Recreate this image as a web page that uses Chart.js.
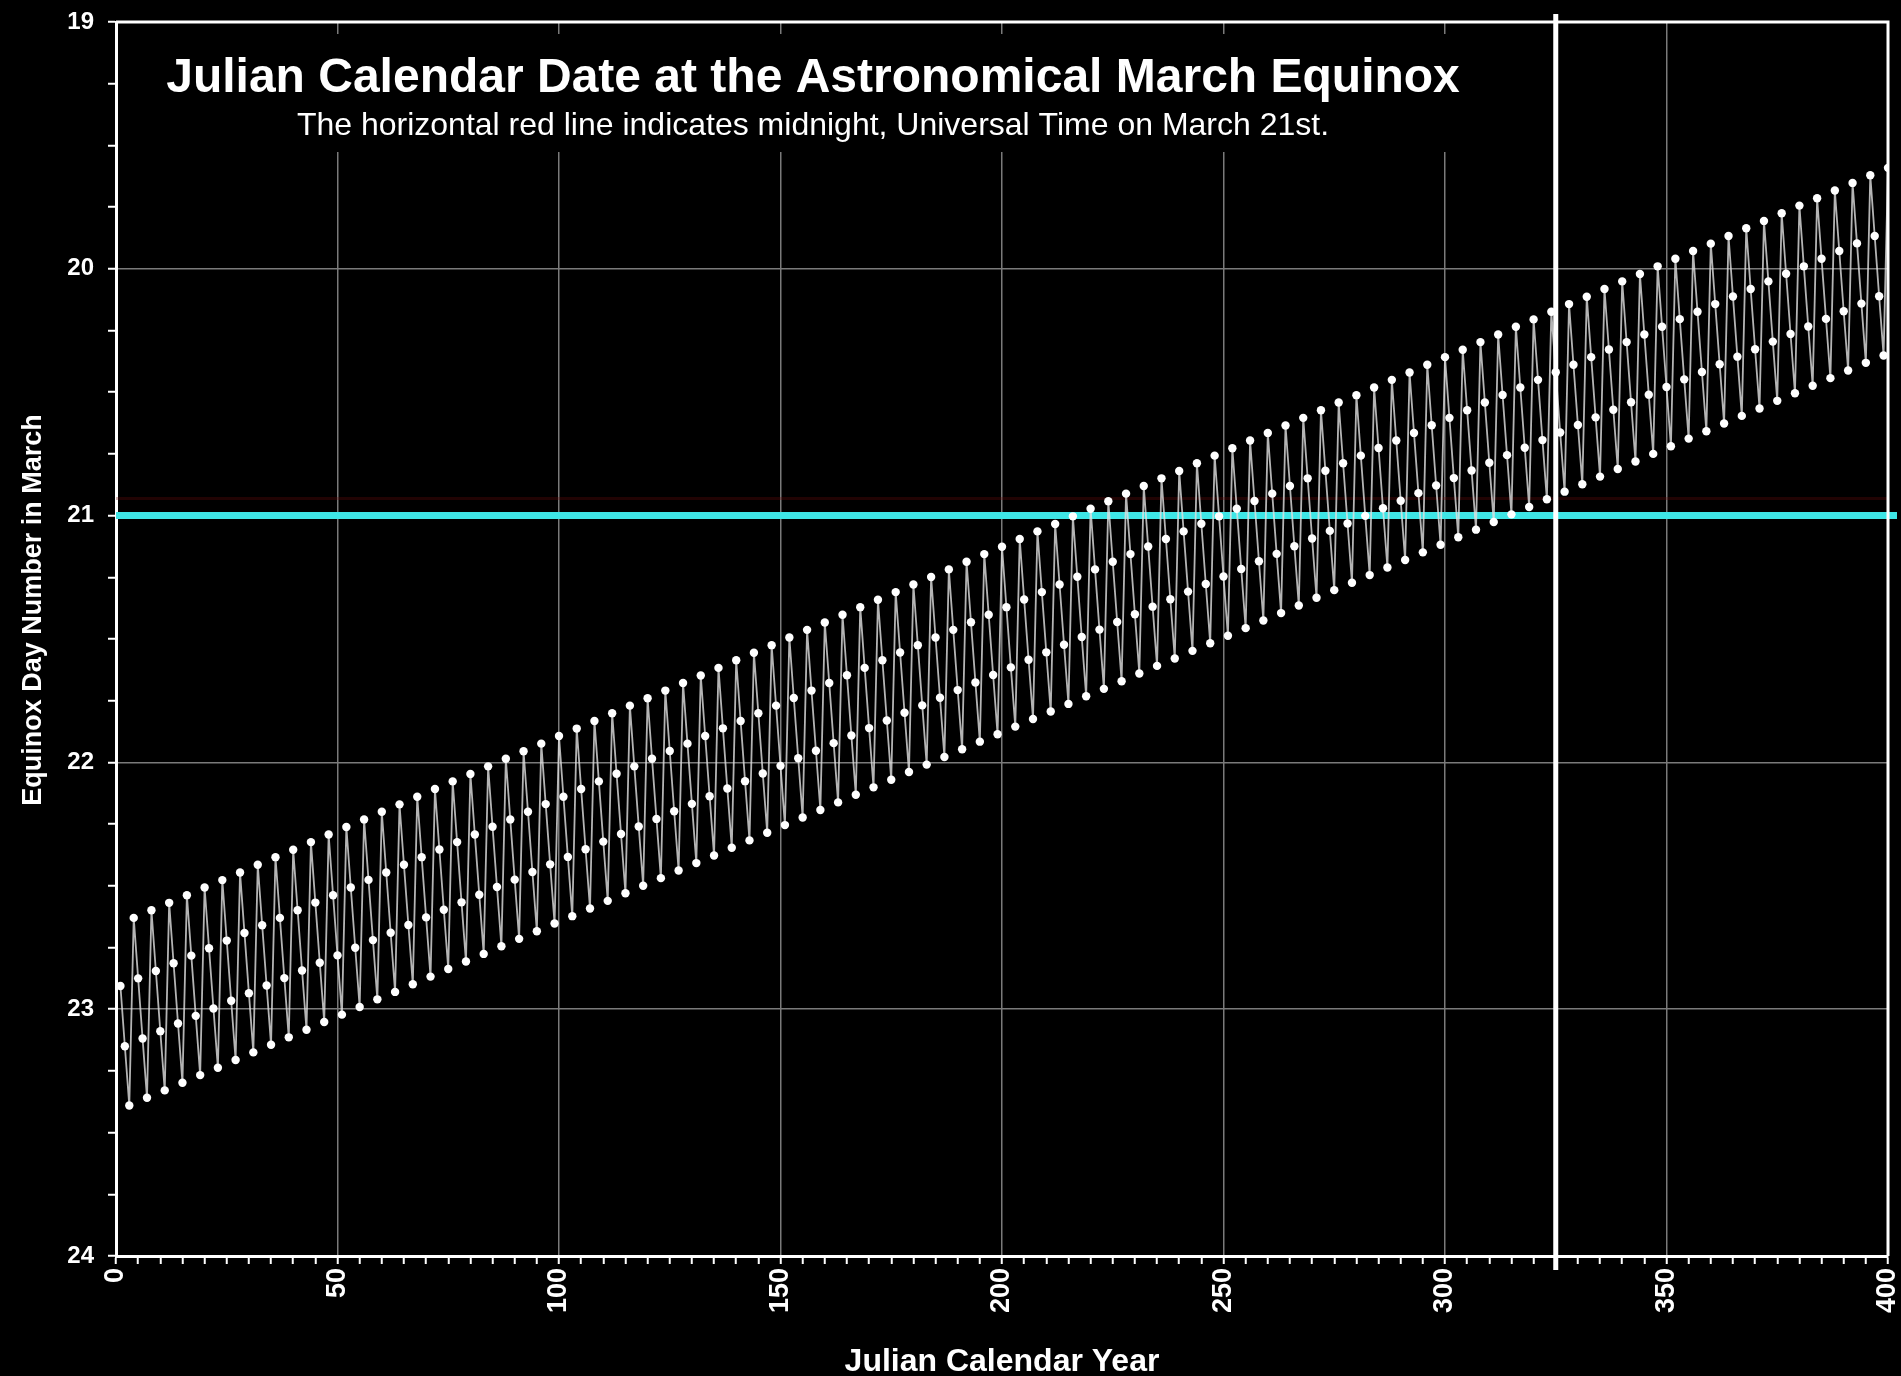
<!DOCTYPE html>
<html><head><meta charset="utf-8">
<script src="https://cdn.jsdelivr.net/npm/chart.js@4.4.1/dist/chart.umd.min.js"></script>
<style>html,body{margin:0;padding:0;background:#000;}canvas{display:block;}</style>
</head><body>
<canvas id="c" width="1901" height="1376" style="width:1901px;height:1376px"></canvas>
<script>
const titleText = 'Julian Calendar Date at the Astronomical March Equinox';
const subtitleText = 'The horizontal red line indicates midnight, Universal Time on March 21st.';
const xAxisTitle = 'Julian Calendar Year';
const yAxisTitle = 'Equinox Day Number in March';

const firstYear = 1;
// Equinox day number in March, one value per 4-year cycle (cycle k covers years 4k+1 .. 4k+4)
const yearAfterLeap = [
22.906,22.875,22.845,22.814,22.783,22.753,22.722,22.691,22.660,22.630,
22.599,22.568,22.538,22.507,22.476,22.446,22.415,22.384,22.353,22.323,
22.292,22.261,22.231,22.200,22.169,22.139,22.108,22.077,22.046,22.016,
21.985,21.954,21.924,21.893,21.862,21.832,21.801,21.770,21.739,21.709,
21.678,21.647,21.617,21.586,21.555,21.525,21.494,21.463,21.432,21.402,
21.371,21.340,21.310,21.279,21.248,21.218,21.187,21.156,21.125,21.095,
21.064,21.033,21.003,20.972,20.941,20.911,20.880,20.849,20.818,20.788,
20.757,20.726,20.696,20.665,20.634,20.604,20.573,20.542,20.511,20.481,
20.450,20.419,20.389,20.358,20.327,20.297,20.266,20.235,20.204,20.174,
20.143,20.112,20.082,20.051,20.020,19.990,19.959,19.928,19.897,19.867];
const secondYear = [
23.150,23.119,23.089,23.058,23.027,22.997,22.966,22.935,22.904,22.874,
22.843,22.812,22.782,22.751,22.720,22.690,22.659,22.628,22.597,22.567,
22.536,22.505,22.475,22.444,22.413,22.383,22.352,22.321,22.290,22.260,
22.229,22.198,22.168,22.137,22.106,22.076,22.045,22.014,21.983,21.953,
21.922,21.891,21.861,21.830,21.799,21.769,21.738,21.707,21.676,21.646,
21.615,21.584,21.554,21.523,21.492,21.462,21.431,21.400,21.369,21.339,
21.308,21.277,21.247,21.216,21.185,21.155,21.124,21.093,21.062,21.032,
21.001,20.970,20.940,20.909,20.878,20.848,20.817,20.786,20.755,20.725,
20.694,20.663,20.633,20.602,20.571,20.541,20.510,20.479,20.448,20.418,
20.387,20.356,20.326,20.295,20.264,20.234,20.203,20.172,20.141,20.111];
const thirdYear = [
23.390,23.359,23.329,23.298,23.267,23.237,23.206,23.175,23.144,23.114,
23.083,23.052,23.022,22.991,22.960,22.930,22.899,22.868,22.837,22.807,
22.776,22.745,22.715,22.684,22.653,22.623,22.592,22.561,22.530,22.500,
22.469,22.438,22.408,22.377,22.346,22.316,22.285,22.254,22.223,22.193,
22.162,22.131,22.101,22.070,22.039,22.009,21.978,21.947,21.916,21.886,
21.855,21.824,21.794,21.763,21.732,21.702,21.671,21.640,21.609,21.579,
21.548,21.517,21.487,21.456,21.425,21.395,21.364,21.333,21.302,21.272,
21.241,21.210,21.180,21.149,21.118,21.088,21.057,21.026,20.995,20.965,
20.934,20.903,20.873,20.842,20.811,20.781,20.750,20.719,20.688,20.658,
20.627,20.596,20.566,20.535,20.504,20.474,20.443,20.412,20.381,20.351];
const leapYear = [
22.630,22.599,22.569,22.538,22.507,22.477,22.446,22.415,22.384,22.354,
22.323,22.292,22.262,22.231,22.200,22.170,22.139,22.108,22.077,22.047,
22.016,21.985,21.955,21.924,21.893,21.863,21.832,21.801,21.770,21.740,
21.709,21.678,21.648,21.617,21.586,21.556,21.525,21.494,21.463,21.433,
21.402,21.371,21.341,21.310,21.279,21.249,21.218,21.187,21.156,21.126,
21.095,21.064,21.034,21.003,20.972,20.942,20.911,20.880,20.849,20.819,
20.788,20.757,20.727,20.696,20.665,20.635,20.604,20.573,20.542,20.512,
20.481,20.450,20.420,20.389,20.358,20.328,20.297,20.266,20.235,20.205,
20.174,20.143,20.113,20.082,20.051,20.021,19.990,19.959,19.928,19.898,
19.867,19.836,19.806,19.775,19.744,19.714,19.683,19.652,19.621,19.591];

const midnightDay = 21;      // cyan horizontal line
const markerYear = 325;      // white vertical line
const xTickLabels = [0, 50, 100, 150, 200, 250, 300, 350, 400];
const yTickLabels = [19, 20, 21, 22, 23, 24];

const points = [];
for (let k = 0; k < leapYear.length; k++) {
  [yearAfterLeap, secondYear, thirdYear, leapYear].forEach((arr, j) => {
    points.push({x: firstYear + 4 * k + j, y: arr[k]});
  });
}

const FONT = '"Liberation Sans", Arial, Helvetica, sans-serif';
const GRID = '#7a7a7a';

const decor = {
  id: 'decor',
  beforeDatasetsDraw(chart) {
    const {ctx, chartArea: a, scales: {x, y}} = chart;
    ctx.save();
    // title block (black box hides gridlines)
    ctx.fillStyle = '#000';
    ctx.fillRect(124, 34, 1380, 118);
    ctx.fillStyle = '#fff';
    ctx.textAlign = 'center';
    ctx.textBaseline = 'alphabetic';
    ctx.font = 'bold 48px ' + FONT;
    ctx.fillText(titleText, 813, 92);
    ctx.font = '32px ' + FONT;
    ctx.fillText(subtitleText, 813, 135);
    // faint red line
    const yr = y.getPixelForValue(midnightDay) - 17;
    ctx.strokeStyle = 'rgba(110,10,10,0.3)';
    ctx.lineWidth = 3;
    ctx.beginPath(); ctx.moveTo(a.left, yr); ctx.lineTo(a.right, yr); ctx.stroke();
    // cyan line
    const yc = y.getPixelForValue(midnightDay);
    ctx.strokeStyle = '#3ee6e6';
    ctx.lineWidth = 7;
    ctx.beginPath(); ctx.moveTo(a.left, yc); ctx.lineTo(a.right + 9, yc); ctx.stroke();
    ctx.restore();
  },
  afterDatasetsDraw(chart) {
    const {ctx, chartArea: a, scales: {x}} = chart;
    ctx.save();
    const xm = x.getPixelForValue(markerYear);
    ctx.strokeStyle = '#fff';
    ctx.lineWidth = 5;
    ctx.beginPath(); ctx.moveTo(xm, a.top - 8); ctx.lineTo(xm, a.bottom + 14); ctx.stroke();
    // frame top & right
    ctx.lineWidth = 3;
    ctx.beginPath();
    ctx.moveTo(a.left, a.top); ctx.lineTo(a.right, a.top); ctx.lineTo(a.right, a.bottom);
    ctx.stroke();
    // y axis title
    ctx.translate(34, 610);
    ctx.rotate(-Math.PI / 2);
    ctx.fillStyle = '#fff';
    ctx.font = 'bold 27px ' + FONT;
    ctx.textAlign = 'center';
    ctx.textBaseline = 'middle';
    ctx.fillText(yAxisTitle, 0, 0);
    ctx.restore();
  }
};

new Chart(document.getElementById('c'), {
  type: 'line',
  data: {
    datasets: [{
      data: points,
      borderColor: 'rgba(225,225,225,0.8)',
      borderWidth: 1.8,
      pointRadius: 4.2,
      pointBackgroundColor: '#ffffff',
      pointBorderWidth: 0,
      tension: 0
    }]
  },
  options: {
    responsive: false,
    animation: false,
    events: [],
    layout: {padding: {top: 22, right: 13, left: 0, bottom: 0}},
    plugins: {legend: {display: false}, tooltip: {enabled: false}, title: {display: false}},
    scales: {
      x: {
        type: 'linear', min: 0, max: 400,
        afterFit(s) { s.height = 120; s.paddingLeft = 0; s.paddingRight = 0; },
        ticks: {
          stepSize: 5, maxTicksLimit: 200, autoSkip: false,
          minRotation: 90, maxRotation: 90, padding: 4,
          color: '#fff', font: {family: FONT, size: 27, weight: 'bold'},
          callback: v => xTickLabels.includes(v) ? String(v) : ''
        },
        grid: {
          color: c => (c.tick && xTickLabels.includes(c.tick.value) && c.tick.value !== 0) ? GRID : 'rgba(0,0,0,0)',
          lineWidth: 1.5,
          tickColor: '#fff', tickLength: 8, tickWidth: 2, drawTicks: true
        },
        border: {color: '#fff', width: 3},
        title: {display: true, text: xAxisTitle, color: '#fff',
          font: {family: FONT, size: 32, weight: 'bold'}, padding: {top: 0, bottom: -5}}
      },
      y: {
        type: 'linear', min: 19, max: 24, reverse: true,
        afterFit(s) { s.width = 116; s.paddingTop = 0; s.paddingBottom = 0; },
        ticks: {
          stepSize: 0.25, maxTicksLimit: 100, autoSkip: false, padding: 14,
          color: '#fff', font: {family: FONT, size: 24, weight: 'bold'},
          callback: v => yTickLabels.includes(v) ? String(v) : ''
        },
        grid: {
          color: c => (c.tick && yTickLabels.includes(c.tick.value) && c.tick.value !== 19 && c.tick.value !== 24) ? GRID : 'rgba(0,0,0,0)',
          lineWidth: 1.5,
          tickColor: '#fff', tickLength: 8, tickWidth: 2, drawTicks: true
        },
        border: {color: '#fff', width: 3}
      }
    }
  },
  plugins: [decor]
});
</script>
</body></html>
